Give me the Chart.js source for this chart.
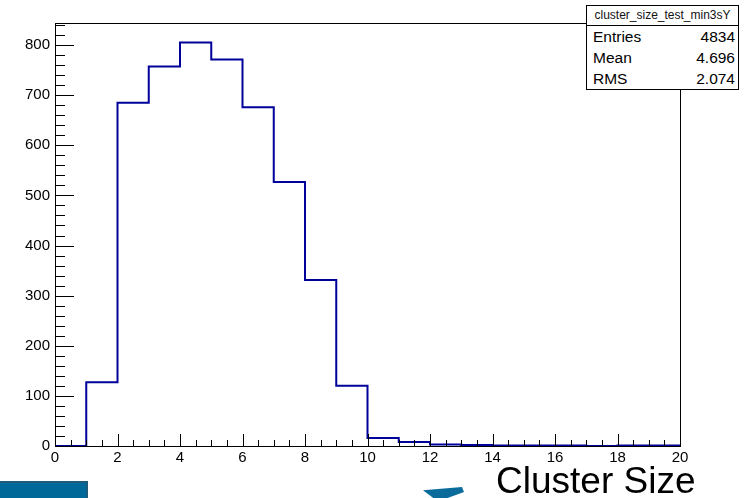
<!DOCTYPE html>
<html lang="en">

<head>
    <meta charset="UTF-8">
    <title>cluster_size_test_min3sY</title>
    <script src="https://cdn.jsdelivr.net/npm/chart.js@4.5.0/dist/chart.umd.min.js"></script>
    <style>
        body { margin: 0; background: #fff; font-family: "Liberation Sans", Arial, sans-serif; }
        .wrap { position: relative; width: 745px; height: 498px; overflow: hidden; }
        #histo { position: absolute; left: 0; top: 0; }
        .stats {
            position: absolute; left: 586px; top: 5px; width: 151px; height: 83px;
            border: 1px solid #000; background: #fff; box-sizing: content-box;
        }
        .stats .name {
            height: 19px; line-height: 19px; border-bottom: 1px solid #000;
            font-size: 12px; text-align: center; color: #111;
        }
        .stats .row {
            display: flex; justify-content: space-between; height: 21px; line-height: 21px;
            font-size: 15.5px; padding: 0 3px 0 6px;
        }
        .slide-box {
            position: absolute; left: 0; top: 481px; width: 86px; height: 17px;
            background: #00699a; border-top: 2px solid #1d5c7c; border-right: 2px solid #1d5c7c;
        }
        .slide-arrow {
            position: absolute; left: 423px; top: 487px; width: 41px; height: 11px;
            background: #0b6c9c;
            clip-path: polygon(0 30%, 95% 0, 100% 45%, 60% 100%, 25% 100%);
        }
    </style>
</head>

<body>
    <div class="wrap">
        <canvas id="histo" width="745" height="498"></canvas>

        <div class="stats">
            <div class="name">cluster_size_test_min3sY</div>
            <div class="row"><span>Entries</span><span id="stEntries"></span></div>
            <div class="row"><span>Mean</span><span id="stMean"></span></div>
            <div class="row"><span>RMS</span><span id="stRms"></span></div>
        </div>

        <div class="slide-box"></div>
        <div class="slide-arrow"></div>
    </div>

    <script>
        const binEdges = [0, 1, 2, 3, 4, 5, 6, 7, 8, 9, 10, 11, 12, 13, 14, 15, 16, 17, 18, 19, 20];
        const binCounts = [0, 127, 685, 757, 805, 771, 676, 527, 331, 120, 16, 8, 3, 2, 1, 1, 1, 0, 1, 1];
        const xTickLabels = [0, 2, 4, 6, 8, 10, 12, 14, 16, 18, 20];
        const yTickLabels = [0, 100, 200, 300, 400, 500, 600, 700, 800];
        const statValues = ['4834', '4.696', '2.074'];
        const xTitle = 'Cluster Size';

        document.getElementById('stEntries').innerText = statValues[0];
        document.getElementById('stMean').innerText = statValues[1];
        document.getElementById('stRms').innerText = statValues[2];

        // pontos do contorno (stepped), último ponto fecha a borda direita
        const points = binEdges.map((e, i) => ({ x: e, y: binCounts[Math.min(i, binCounts.length - 1)] }));

        const FONT = '"Liberation Sans", Arial, sans-serif';

        // moldura, ticks internos estilo ROOT e título do eixo
        const rootFrame = {
            id: 'rootFrame',
            afterDatasetsDraw(chart) {
                const { ctx, chartArea: a, scales } = chart;
                ctx.save();
                ctx.strokeStyle = '#000';
                ctx.lineWidth = 1;
                ctx.strokeRect(a.left + 0.5, a.top + 0.5, a.right - a.left, a.bottom - a.top);

                ctx.beginPath();
                for (let v = 0; v <= 20.001; v += 0.5) {
                    const px = Math.round(scales.x.getPixelForValue(v)) + 0.5;
                    const len = (Math.abs(v % 2) < 0.001) ? 12 : 6;
                    ctx.moveTo(px, a.bottom);
                    ctx.lineTo(px, a.bottom - len);
                }
                for (let v = 0; v <= scales.y.max; v += 20) {
                    const py = Math.round(scales.y.getPixelForValue(v)) + 0.5;
                    const len = (v % 100 === 0) ? 19 : 10;
                    ctx.moveTo(a.left, py);
                    ctx.lineTo(a.left + len, py);
                }
                ctx.stroke();

                ctx.fillStyle = '#000';
                ctx.font = '37px ' + FONT;
                ctx.textBaseline = 'alphabetic';
                ctx.textAlign = 'left';
                ctx.fillText(xTitle, 496, 493);
                ctx.restore();
            }
        };

        const ctx = document.getElementById('histo').getContext('2d');
        new Chart(ctx, {
            type: 'line',
            data: {
                datasets: [{
                    data: points,
                    stepped: true,
                    borderColor: '#00009a',
                    borderWidth: 2,
                    pointRadius: 0,
                    fill: false,
                    clip: 4
                }]
            },
            options: {
                responsive: false,
                animation: false,
                layout: { padding: { top: 23, right: 65, left: 0, bottom: 0 } },
                plugins: { legend: { display: false }, tooltip: { enabled: false } },
                scales: {
                    x: {
                        type: 'linear', min: 0, max: 20,
                        afterBuildTicks: s => { s.ticks = xTickLabels.map(v => ({ value: v })); },
                        afterFit: s => { s.height = 52; },
                        ticks: { color: '#000', font: { family: FONT, size: 15 }, padding: 3, maxRotation: 0, autoSkip: false },
                        grid: { display: false, drawTicks: false },
                        border: { display: false }
                    },
                    y: {
                        min: 0, max: 844,
                        afterBuildTicks: s => { s.ticks = yTickLabels.map(v => ({ value: v })); },
                        afterFit: s => { s.width = 55; },
                        ticks: { color: '#000', font: { family: FONT, size: 15 }, padding: 5 },
                        grid: { display: false, drawTicks: false },
                        border: { display: false }
                    }
                }
            },
            plugins: [rootFrame]
        });
    </script>
</body>

</html>
